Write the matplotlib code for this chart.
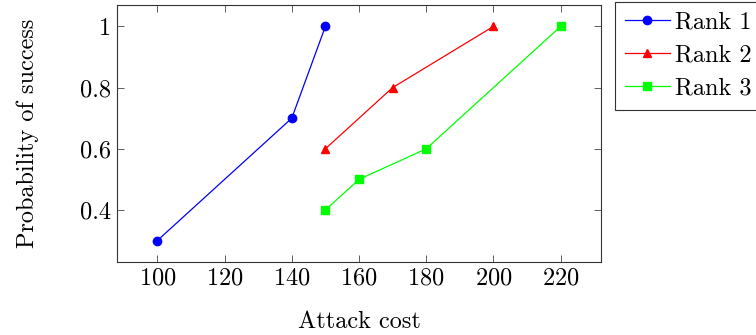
import matplotlib
matplotlib.use('Agg')
import matplotlib.pyplot as plt
from matplotlib.ticker import FuncFormatter

plt.rcParams['font.family'] = ['cmr10', 'DejaVu Serif']
plt.rcParams['axes.formatter.use_mathtext'] = True
plt.rcParams['font.size'] = 17.5

# data
rank1_x = [100, 140, 150]
rank1_y = [0.3, 0.7, 1.0]
rank2_x = [150, 170, 200]
rank2_y = [0.6, 0.8, 1.0]
rank3_x = [150, 160, 180, 220]
rank3_y = [0.4, 0.5, 0.6, 1.0]

x_ticks = [100, 120, 140, 160, 180, 200, 220]
y_ticks = [0.4, 0.6, 0.8, 1.0]

fig = plt.figure(figsize=(7.56, 3.35), dpi=100)
ax = fig.add_axes([117 / 756, 73 / 335, 484 / 756, 257 / 335])

ax.plot(rank1_x, rank1_y, color='blue', marker='o', markersize=6, lw=0.9, label='Rank 1')
ax.plot(rank2_x, rank2_y, color='red', marker='^', markersize=6, lw=0.9, label='Rank 2')
ax.plot(rank3_x, rank3_y, color='#00ff00', marker='s', markersize=6, lw=0.9, label='Rank 3')

ax.set_xlim(88, 232)
ax.set_ylim(0.23, 1.07)
ax.set_xticks(x_ticks)
ax.set_yticks(y_ticks)
ax.yaxis.set_major_formatter(FuncFormatter(lambda v, p: '%g' % v))
ax.tick_params(direction='in', length=5, width=0.6, color='#444444',
               top=True, right=True, pad=4)
for s in ax.spines.values():
    s.set_linewidth(0.8)
    s.set_color('#333333')

ax.set_xlabel('Attack cost', labelpad=15)
ax.set_ylabel('Probability of success', labelpad=30)

leg = fig.legend(loc='upper left', bbox_to_anchor=(615 / 756, 333 / 335),
                 fancybox=False, framealpha=1, edgecolor='#333333',
                 handlelength=1.85, borderpad=0.4, labelspacing=0.45,
                 handletextpad=0.2, borderaxespad=0)
leg.get_frame().set_linewidth(0.8)

plt.savefig('out.png', dpi=100)
